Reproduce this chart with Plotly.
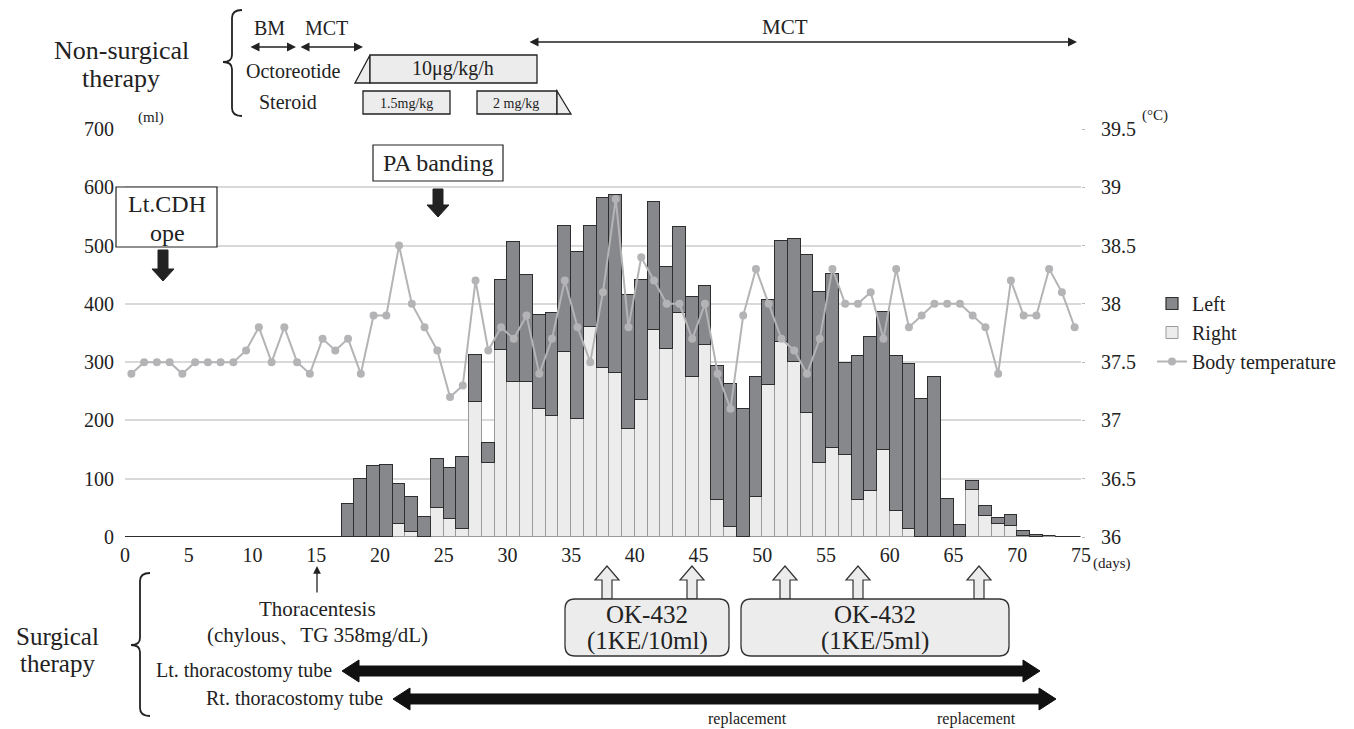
import plotly.graph_objects as go

# ---------------- data ----------------
days = list(range(75))
left_ml = [0]*17 + [56,100,121,124,69,61,35,83,87,125,
                    82,35,121,240,184,161,176,216,286,172,
                    292,306,231,206,219,141,148,136,101,230,
                    246,220,206,146,172,211,272,294,298,159,
                    247,265,236,267,282,236,274,66,20,15,
                    18,9,19,9,3,0] + [0,0]
right_ml = [0]*17 + [0,0,0,0,22,8,0,50,31,13,
                     231,127,320,266,266,220,208,317,203,361,
                     290,281,185,235,355,322,384,275,330,63,
                     17,0,69,260,335,301,212,127,153,140,
                     64,79,150,44,14,0,0,0,0,81,
                     36,23,19,2,0,2] + [0,0]
temp_c = [37.4,37.5,37.5,37.5,37.4,37.5,37.5,37.5,37.5,37.6,
          37.8,37.5,37.8,37.5,37.4,37.7,37.6,37.7,37.4,37.9,
          37.9,38.5,38.0,37.8,37.6,37.2,37.3,38.2,37.6,37.8,
          37.7,37.9,37.4,37.7,38.2,37.8,37.5,38.1,38.9,37.8,
          38.4,38.2,38.0,38.0,37.7,38.0,37.4,37.1,37.9,38.3,
          38.0,37.7,37.6,37.4,37.7,38.3,38.0,38.0,38.1,37.7,
          38.3,37.8,37.9,38.0,38.0,38.0,37.9,37.8,37.4,38.2,
          37.9,37.9,38.3,38.1,37.8]
x_ticks = list(range(0, 80, 5))
ml_ticks = list(range(0, 800, 100))
temp_ticks = [36, 36.5, 37, 37.5, 38, 38.5, 39, 39.5]
temp_tick_labels = ["36", "36.5", "37", "37.5", "38", "38.5", "39", "39.5"]

# each day occupies the interval [day, day+1]
xc = [d + 0.5 for d in days]

FONT = "Liberation Serif"
TXT = "#222222"

# ---------------- layout geometry (reference pixels) ----------------
# the page body has an 8px margin, so the figure is drawn 8px smaller
OFF = 8
FW, FH = 1354 - OFF, 729 - OFF
L, R_, T, B = 125, 1081, 129, 537
W, H = R_ - L, B - T


def px(x):
    return (x - L) / W


def py(y):
    return (B - y) / H


def poly(points):
    return "M " + " L ".join(f"{px(x):.5f},{py(y):.5f}" for x, y in points) + " Z"


def rounded(x0, y0, x1, y1, r):
    return (f"M {px(x0+r):.5f},{py(y0):.5f} L {px(x1-r):.5f},{py(y0):.5f} "
            f"Q {px(x1):.5f},{py(y0):.5f} {px(x1):.5f},{py(y0+r):.5f} "
            f"L {px(x1):.5f},{py(y1-r):.5f} "
            f"Q {px(x1):.5f},{py(y1):.5f} {px(x1-r):.5f},{py(y1):.5f} "
            f"L {px(x0+r):.5f},{py(y1):.5f} "
            f"Q {px(x0):.5f},{py(y1):.5f} {px(x0):.5f},{py(y1-r):.5f} "
            f"L {px(x0):.5f},{py(y0+r):.5f} "
            f"Q {px(x0):.5f},{py(y0):.5f} {px(x0+r):.5f},{py(y0):.5f} Z")


def brace(x, y0, y1, ym, w=10):
    xm = x - w * 0.9
    return (f"M {px(x+w):.5f},{py(y0):.5f} Q {px(x):.5f},{py(y0):.5f} {px(x):.5f},{py(y0+8):.5f} "
            f"L {px(x):.5f},{py(ym-7):.5f} Q {px(x):.5f},{py(ym):.5f} {px(xm):.5f},{py(ym):.5f} "
            f"Q {px(x):.5f},{py(ym):.5f} {px(x):.5f},{py(ym+7):.5f} "
            f"L {px(x):.5f},{py(y1-8):.5f} Q {px(x):.5f},{py(y1):.5f} {px(x+w):.5f},{py(y1):.5f}")


fig = go.Figure()
fig.add_trace(go.Bar(x=xc, y=right_ml, name="Right", width=1.0,
                     marker=dict(color="#ececec", line=dict(color="#9a9a9a", width=1)),
                     legendrank=2, legendgroup="r"))
fig.add_trace(go.Bar(x=xc, y=left_ml, name="Left", width=1.0,
                     marker=dict(color="#87888c", line=dict(color="#2e2e2e", width=1.2)),
                     legendrank=1, legendgroup="l"))
fig.add_trace(go.Scatter(x=xc, y=temp_c, name="Body temperature", mode="lines+markers",
                         line=dict(color="#b4b4b6", width=2),
                         marker=dict(color="#b4b4b6", size=8),
                         legendrank=3, legendgroup="t", yaxis="y2"))

shapes = []
ann = []


def text(x, y, s, size=17, xanchor="center"):
    ann.append(dict(xref="paper", yref="paper", x=px(x), y=py(y), text=s, showarrow=False,
                    xanchor=xanchor, yanchor="middle",
                    font=dict(family=FONT, size=size, color=TXT)))


def darrow(x0, x1, y, both=True, width=1.5):
    ann.append(dict(xref="paper", yref="paper", x=px(x1), y=py(y), ax=x0 - x1, ay=0,
                    axref="pixel", ayref="pixel", text="", showarrow=True,
                    arrowhead=2, arrowsize=1.2, arrowwidth=width, arrowcolor="#222",
                    arrowside="end+start" if both else "end"))


def shape_path(path, fill="rgba(0,0,0,0)", line="#222", lw=1.3):
    shapes.append(dict(type="path", xref="paper", yref="paper", path=path,
                       fillcolor=fill, line=dict(color=line, width=lw), layer="above"))


# ---- top: non-surgical therapy ----
text(121, 50, "Non-surgical", 26)
text(121, 78, "therapy", 26)
shape_path(brace(232, 10, 116, 62), lw=1.8)
text(269, 28, "BM", 20)
text(326, 28, "MCT", 20)
darrow(249, 296, 47)
darrow(299, 363, 47)
text(785, 27, "MCT", 21)
darrow(528, 1077, 42)
text(343, 71, "Octoreotide", 20, xanchor="right")
shape_path(poly([(355, 83), (370, 55), (370, 83)]), fill="#ececec")
shape_path(poly([(370, 55), (537, 55), (537, 83), (370, 83)]), fill="#ececec")
text(453, 68, "10μg/kg/h", 20)
text(288, 102, "Steroid", 20)
shape_path(poly([(363, 91), (450, 91), (450, 114), (363, 114)]), fill="#ececec")
text(406, 103, "1.5mg/kg", 14)
shape_path(poly([(477, 91), (557, 91), (557, 114), (477, 114)]), fill="#ececec")
shape_path(poly([(557, 91), (571, 114), (557, 114)]), fill="#ececec")
text(516, 103, "2 mg/kg", 14)

# ---- axis units ----
text(136, 117, "(ml)", 15, xanchor="left")
text(1140, 116, "(°C)", 15, xanchor="left")
text(1091, 563, "(days)", 15, xanchor="left")

# ---- in-plot callouts ----
shape_path(poly([(116, 187), (217, 187), (217, 247), (116, 247)]), fill="white", line="#222", lw=1.2)
text(167, 204, "Lt.CDH", 24)
text(167, 233, "ope", 24)
shape_path(poly([(158, 250), (168, 250), (168, 269), (174, 269), (163, 281), (152, 269), (158, 269)]),
           fill="#222", line="#222", lw=1)
shape_path(poly([(373, 145), (503, 145), (503, 181), (373, 181)]), fill="white", line="#222", lw=1.2)
text(438, 163, "PA banding", 24)
shape_path(poly([(433, 189), (443, 189), (443, 205), (449, 205), (438, 217), (427, 205), (433, 205)]),
           fill="#222", line="#222", lw=1)

# ---- bottom: surgical therapy ----
text(57, 636, "Surgical", 25)
text(57, 663, "therapy", 25)
shape_path(brace(140, 573, 716, 645), lw=1.8)
darrow(317, 317, 566, both=False, width=1.3)
ann[-1].update(ax=0, ay=28)
text(317, 609, "Thoracentesis", 21)
text(317, 635, "(chylous、TG 358mg/dL)", 21)
for cx in [607, 692, 785, 858, 979]:
    shape_path(poly([(cx - 5, 599), (cx - 5, 580), (cx - 12, 580), (cx, 566), (cx + 12, 580),
                     (cx + 5, 580), (cx + 5, 599)]), fill="#ececec", line="#333", lw=1.2)
shape_path(rounded(565, 599, 729, 656, 10), fill="#ececec", line="#333", lw=1.3)
text(647, 614, "OK-432", 25)
text(647, 641, "(1KE/10ml)", 25)
shape_path(rounded(741, 599, 1009, 656, 10), fill="#ececec", line="#333", lw=1.3)
text(875, 614, "OK-432", 25)
text(875, 641, "(1KE/5ml)", 25)


def fat_arrow(x0, x1, y, hs=5, hh=11, hl=17):
    return poly([(x0, y), (x0 + hl, y - hh), (x0 + hl, y - hs), (x1 - hl, y - hs), (x1 - hl, y - hh),
                 (x1, y), (x1 - hl, y + hh), (x1 - hl, y + hs), (x0 + hl, y + hs), (x0 + hl, y + hh)])


text(334, 670, "Lt. thoracostomy tube", 20, xanchor="right")
shape_path(fat_arrow(342, 1040, 671), fill="#111", line="#111", lw=1)
text(385, 698, "Rt. thoracostomy tube", 20, xanchor="right")
shape_path(fat_arrow(393, 1056, 699), fill="#111", line="#111", lw=1)
text(747, 719, "replacement", 16)
text(976, 719, "replacement", 16)

fig.update_layout(
    width=FW, height=FH,
    margin=dict(l=L - OFF, r=FW - (R_ - OFF), t=T - OFF, b=FH - (B - OFF), pad=0),
    paper_bgcolor="white", plot_bgcolor="white",
    barmode="stack", bargap=0,
    font=dict(family=FONT, size=20, color=TXT),
    showlegend=True,
    legend=dict(x=px(1152), y=py(284), xanchor="left", yanchor="top",
                font=dict(family=FONT, size=20, color=TXT),
                traceorder="grouped", tracegroupgap=0,
                bgcolor="rgba(0,0,0,0)", itemwidth=30),
    xaxis=dict(range=[0, 75], tickvals=x_ticks, ticktext=[str(v) for v in x_ticks],
               showgrid=False, zeroline=False, showline=False, ticks="",
               ticklabelstandoff=4,
               tickfont=dict(family=FONT, size=20, color=TXT)),
    yaxis=dict(range=[0, 700], tickvals=ml_ticks, ticktext=[str(v) for v in ml_ticks],
               showgrid=True, gridcolor="#d9d9d9", gridwidth=1.5, zeroline=False,
               showline=False, ticks="", ticklabelstandoff=10,
               tickfont=dict(family=FONT, size=20, color=TXT)),
    yaxis2=dict(range=[36, 39.5], tickvals=temp_ticks, ticktext=temp_tick_labels,
                overlaying="y", side="right", showgrid=False, zeroline=False,
                showline=False, ticks="outside", ticklen=3, tickcolor="#bbbbbb",
                ticklabelstandoff=12,
                tickfont=dict(family=FONT, size=20, color=TXT)),
    shapes=shapes, annotations=ann,
)

fig.write_html("out.html")
